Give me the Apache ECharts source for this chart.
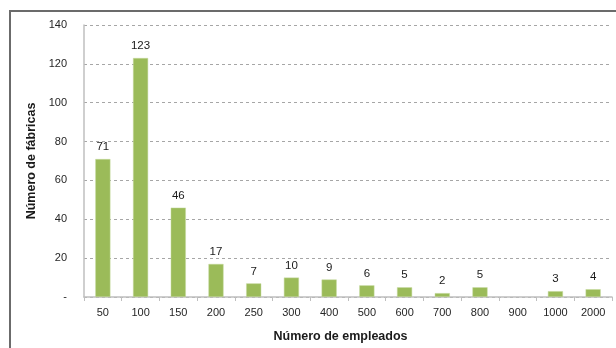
<!DOCTYPE html>
<html>
<head>
<meta charset="utf-8">
<script src="https://cdn.jsdelivr.net/npm/echarts@6/dist/echarts.min.js"></script>
<style>
html,body{margin:0;padding:0;background:#fff;}
#chart{width:616px;height:348px;}
</style>
</head>
<body>
<div id="chart"></div>
<script>
// Employee-size buckets and the number of factories in each
const categories = ['50','100','150','200','250','300','400','500','600','700','800','900','1000','2000'];
const factories = [71, 123, 46, 17, 7, 10, 9, 6, 5, 2, 5, null, 3, 4];
const yTicks = [0, 20, 40, 60, 80, 100, 120, 140];

const font = '"Liberation Sans", Arial, sans-serif';
const chart = echarts.init(document.getElementById('chart'), null, {renderer: 'canvas'});

chart.setOption({
  animation: false,
  backgroundColor: '#ffffff',
  graphic: [{
    type: 'rect',
    shape: {x: 10, y: 11, width: 700, height: 400},
    style: {fill: 'none', stroke: '#6b6b6b', lineWidth: 2},
    silent: true
  }],
  grid: {left: 84, top: 25, right: 4, bottom: 49.5, containLabel: false},
  xAxis: {
    type: 'category',
    data: categories,
    boundaryGap: true,
    name: 'Número de empleados',
    nameLocation: 'middle',
    nameGap: 33,
    nameTextStyle: {fontFamily: font, fontSize: 12.5, fontWeight: 'bold', color: '#1a1a1a', padding: [0, 15, 0, 0]},
    axisLine: {lineStyle: {color: '#bfbfbf', width: 1.5}},
    axisTick: {show: true, length: 4, lineStyle: {color: '#bfbfbf'}, alignWithLabel: false},
    axisLabel: {fontFamily: font, fontSize: 11, color: '#262626', margin: 10, interval: 0}
  },
  yAxis: {
    type: 'value',
    min: yTicks[0],
    max: yTicks[yTicks.length - 1],
    interval: 20,
    name: 'Número de fábricas',
    nameLocation: 'middle',
    nameGap: 45,
    nameTextStyle: {fontFamily: font, fontSize: 12.5, fontWeight: 'bold', color: '#1a1a1a'},
    axisLine: {show: true, lineStyle: {color: '#bfbfbf', width: 1.5}},
    axisTick: {show: false},
    axisLabel: {
      fontFamily: font, fontSize: 11, color: '#262626', margin: 17,
      formatter: v => (v === 0 ? '-' : String(v))
    },
    splitLine: {lineStyle: {color: '#a6a6a6', type: [3, 3], width: 1}}
  },
  series: [{
    type: 'bar',
    data: factories,
    barWidth: '40%',
    itemStyle: {color: '#9bbb59', borderColor: '#c6dba0', borderWidth: 0.5},
    label: {
      show: true,
      position: 'top',
      distance: 6,
      fontFamily: font,
      fontSize: 11.5,
      color: '#1a1a1a'
    }
  }]
});
</script>
</body>
</html>
